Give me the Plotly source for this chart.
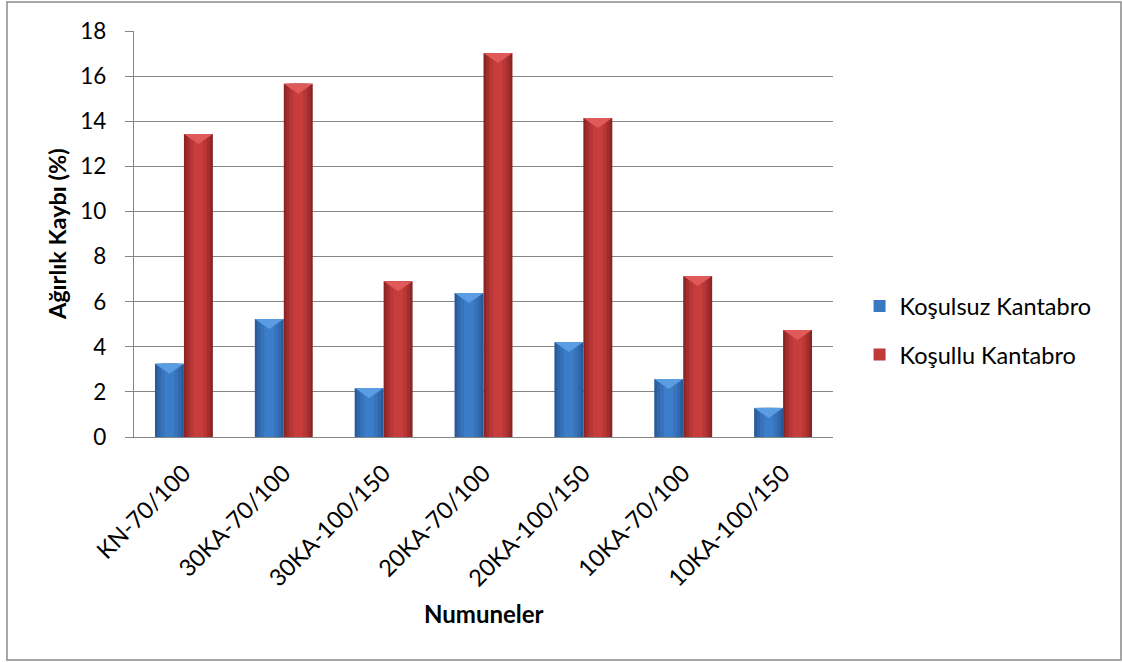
import plotly.graph_objects as go

# Sample names and weight-loss results (%)
numuneler = ["KN-70/100", "30KA-70/100", "30KA-100/150", "20KA-70/100",
             "20KA-100/150", "10KA-70/100", "10KA-100/150"]
kosulsuz = [3.25, 5.23, 2.17, 6.38, 4.21, 2.57, 1.29]
kosullu = [13.43, 15.66, 6.91, 17.02, 14.14, 7.14, 4.74]
y_ticks = [0, 2, 4, 6, 8, 10, 12, 14, 16, 18]

FONT = "Lato, Carlito, Calibri, sans-serif"
GRID = "#868686"
BAR_W = 0.29  # width of one bar in category units

idx = list(range(len(numuneler)))

# (name, values, offset of bar's left edge, shading layers (fraction, colour), chevron colour, legend colour)
series = [
    ("Koşulsuz Kantabro", kosulsuz, -BAR_W,
     [(1.0, "#2a5b99"), (0.82, "#3068ab"), (0.6, "#3673bb"), (0.34, "#3b7dc9")], "#5b9de3", "#3a78c2"),
    ("Koşullu Kantabro", kosullu, 0.0,
     [(1.0, "#8c2525"), (0.82, "#a42e2d"), (0.6, "#b83736"), (0.34, "#c63d3c")], "#df5a58", "#c03a39"),
]

fig = go.Figure()
shapes = []

for name, vals, off, layers, chevron, legend_col in series:
    for k, (frac, col) in enumerate(layers):
        w = BAR_W * frac
        fig.add_trace(go.Bar(
            x=idx, y=vals,
            width=[w] * len(idx),
            offset=[off + (BAR_W - w) / 2] * len(idx),
            marker=dict(color=col, line=dict(width=0)),
            name=name,
            legendgroup=name,
            showlegend=False,
            hoverinfo="skip" if k else "y",
        ))
    # legend swatch for the series
    fig.add_trace(go.Bar(
        x=[None], y=[None], name=name, legendgroup=name,
        marker=dict(color=legend_col, line=dict(width=0)), showlegend=True,
    ))
    # light bevel on the top of every bar
    for i, v in zip(idx, vals):
        x0 = i + off
        x1 = x0 + BAR_W
        xm = (x0 + x1) / 2
        shapes.append(dict(
            type="path", xref="x", yref="y",
            ysizemode="pixel", yanchor=v,
            path=f"M{x0},0 L{x1},0 L{xm},-10 Z",
            fillcolor=chevron, line=dict(width=0), layer="above",
        ))

# outer chart frame
shapes.append(dict(type="rect", xref="paper", yref="paper",
                   x0=-0.1817, x1=1.412, y0=-0.549, y1=1.0714,
                   line=dict(color="#8a8a8a", width=1.5), fillcolor="rgba(0,0,0,0)",
                   layer="below"))

fig.update_layout(
    width=1122, height=662,
    margin=dict(l=134, r=289, t=31, b=225, autoexpand=False),
    paper_bgcolor="white", plot_bgcolor="white",
    barmode="overlay",
    font=dict(family=FONT, size=22, color="black"),
    shapes=shapes,
    showlegend=True,
    legend=dict(
        x=1.038, y=0.262, xanchor="left", yanchor="middle",
        font=dict(family=FONT, size=23.5, color="black"),
        traceorder="grouped", tracegroupgap=15,
        bgcolor="rgba(0,0,0,0)",
    ),
    xaxis=dict(
        range=[-0.5, len(numuneler) - 0.5],
        tickmode="array", tickvals=idx, ticktext=numuneler,
        tickangle=-45, ticks="", showgrid=False,
        showline=True, linecolor=GRID, linewidth=1.3,
        ticklabelstandoff=12, zeroline=False,
        tickfont=dict(family=FONT, size=23.5, color="black"),
    ),
    yaxis=dict(
        range=[0, 18], tickmode="array", tickvals=y_ticks,
        showgrid=True, gridcolor=GRID, gridwidth=1.3,
        showline=True, linecolor=GRID, linewidth=1.3,
        ticks="outside", ticklen=8, tickcolor=GRID, tickwidth=1.3,
        ticklabelstandoff=14, zeroline=False,
        tickfont=dict(family=FONT, size=22.5, color="black"),
    ),
    annotations=[
        dict(text="<b>Ağırlık Kaybı (%)</b>", xref="paper", yref="paper",
             x=-0.110, y=0.5, textangle=-90, showarrow=False,
             xanchor="center", yanchor="middle",
             font=dict(family=FONT, size=23.5, color="black")),
        dict(text="<b>Numuneler</b>", xref="paper", yref="paper",
             x=0.5, y=-0.4335, showarrow=False,
             xanchor="center", yanchor="middle",
             font=dict(family=FONT, size=24, color="black")),
    ],
)

fig.write_html("out.html")
